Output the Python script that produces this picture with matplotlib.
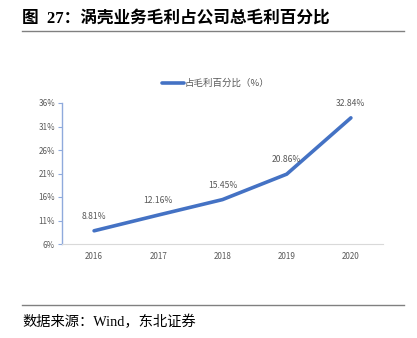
import matplotlib
import matplotlib.pyplot as plt
from matplotlib.lines import Line2D

matplotlib.rcParams["font.family"] = ["Noto Sans CJK SC", "DejaVu Sans"]
matplotlib.rcParams["axes.unicode_minus"] = False

# データ
years = ["2016", "2017", "2018", "2019", "2020"]
share = [8.81, 12.16, 15.45, 20.86, 32.84]
yticks = [6, 11, 16, 21, 26, 31, 36]

LINE = "#4472C4"
GRAY = "#595959"

fig = plt.figure(figsize=(4.17, 3.38), dpi=100)
ax = fig.add_axes([62 / 417, 1 - 244 / 338, 321 / 417, 141 / 338])

x = range(len(years))
ax.plot(x, share, color=LINE, lw=2.6, solid_capstyle="round")
for i, v in zip(x, share):
    ax.annotate(f"{v:.2f}%", (i, v), xytext=(0, 7), textcoords="offset points",
                ha="center", va="bottom", fontsize=6.2, color=GRAY)

ax.set_xlim(-0.5, len(years) - 0.5)
ax.set_ylim(6, 36)
ax.set_xticks(list(x))
ax.set_xticklabels(years)
ax.set_yticks(yticks)
ax.set_yticklabels([f"{t}%" for t in yticks])
ax.tick_params(axis="x", length=0, labelsize=5.8, labelcolor=GRAY, pad=6)
ax.tick_params(axis="y", length=3, width=0.8, color="#8FAADC", labelsize=5.8,
               labelcolor=GRAY, pad=2)
for s in ["top", "right"]:
    ax.spines[s].set_visible(False)
ax.spines["left"].set_color("#8FAADC")
ax.spines["left"].set_linewidth(1.0)
ax.spines["bottom"].set_color("#D9D9D9")
ax.spines["bottom"].set_linewidth(0.8)

# 凡例
fig.add_artist(Line2D([162 / 417, 184 / 417], [1 - 83 / 338] * 2, color=LINE, lw=2.6,
                      solid_capstyle="round"))
fig.text(185 / 417, 1 - 83 / 338, "占毛利百分比（%）", fontsize=6.8, color=GRAY,
         va="center", ha="left")

# タイトル・出典
fig.text(22 / 417, 1 - 18 / 338, "图  27：涡壳业务毛利占公司总毛利百分比", fontsize=12,
         fontweight="bold", va="center", ha="left",
         family=["Liberation Serif", "Noto Sans CJK SC"])
fig.add_artist(Line2D([22 / 417, 404 / 417], [1 - 31 / 338] * 2, color="#808080", lw=1.0))
fig.add_artist(Line2D([22 / 417, 404 / 417], [1 - 305 / 338] * 2, color="#808080", lw=1.0))
fig.text(22 / 417, 1 - 322 / 338, "数据来源：Wind，东北证券", fontsize=10.3, va="center",
         ha="left", family=["Liberation Serif", "Noto Sans CJK SC"])

fig.savefig("out.png", dpi=100)
